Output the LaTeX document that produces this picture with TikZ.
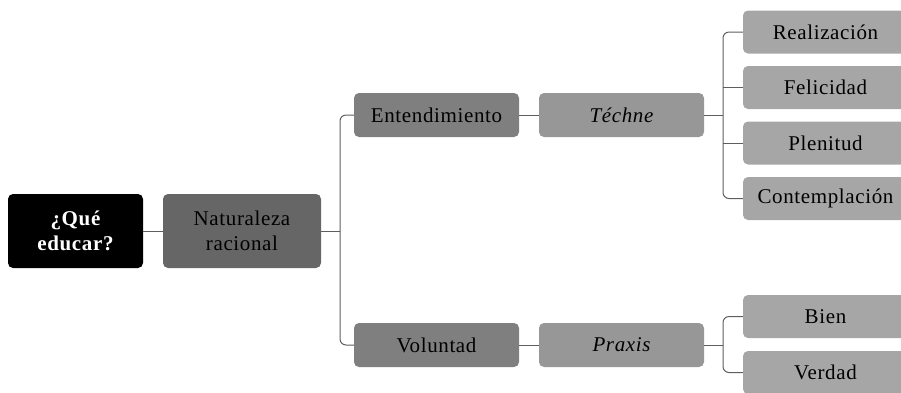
\documentclass[tikz,border=0pt]{standalone}
\usepackage{fontspec}
\setmainfont[LetterSpace=3]{Liberation Serif}
\definecolor{cnat}{HTML}{666666}
\definecolor{cmid}{HTML}{7F7F7F}
\definecolor{clt}{HTML}{979797}
\definecolor{cleaf}{HTML}{A6A6A6}
\definecolor{cline}{HTML}{5E5E5E}
\begin{document}
\begin{tikzpicture}[x=1pt,y=-1pt,
  box/.style={rectangle,rounded corners=5pt,inner sep=0pt,align=center,
    font=\fontsize{21}{25}\selectfont,text=black},
  rootbox/.style={box,fill=black,text=white,minimum width=135pt,minimum height=74pt,font=\fontsize{21}{25}\selectfont\bfseries},
  natbox/.style={box,fill=cnat,minimum width=158pt,minimum height=74pt},
  midbox/.style={box,fill=cmid,minimum width=165pt,minimum height=44pt},
  ltbox/.style={box,fill=clt,minimum width=165pt,minimum height=44pt},
  leafbox/.style={box,fill=cleaf,minimum width=165pt,minimum height=43pt},
  conn/.style={draw=cline,line width=1pt,rounded corners=6pt}]
\useasboundingbox (0,0) rectangle (901,392);
\clip (0,0) rectangle (901,392);
\node[rootbox] (root) at (75.5,231) {¿Qué\\educar?};
\node[natbox] (nat) at (242,231) {Naturaleza\\racional};
\node[midbox] (ent) at (436.5,115) {Entendimiento};
\node[ltbox] (tec) at (621.5,115) {\itshape Téchne};
\node[midbox] (vol) at (436.5,345) {Voluntad};
\node[ltbox] (pra) at (621.5,345) {\itshape Praxis};
\node[leafbox] (rea) at (825.5,32) {Realización};
\node[leafbox] (fel) at (825.5,87.5) {Felicidad};
\node[leafbox] (ple) at (825.5,143) {Plenitud};
\node[leafbox] (con) at (825.5,198.5) {Contemplación};
\node[leafbox] (bie) at (825.5,316.5) {Bien};
\node[leafbox] (ver) at (825.5,372.5) {Verdad};
\coordinate (j1) at (340,231);
\coordinate (j2) at (723,115);
\coordinate (j3) at (723,345);
\draw[conn] (root.east) -- (nat.west);
\draw[conn] (nat.east) -- (j1);
\draw[conn] (ent.west) -| (j1);
\draw[conn] (vol.west) -| (j1);
\draw[conn] (ent.east) -- (tec.west);
\draw[conn] (vol.east) -- (pra.west);
\draw[conn] (tec.east) -- (j2);
\draw[conn] (rea.west) -| (j2);
\draw[conn] (con.west) -| (j2);
\draw[conn] (fel.west) -- (fel.west -| j2);
\draw[conn] (ple.west) -- (ple.west -| j2);
\draw[conn] (pra.east) -- (j3);
\draw[conn] (bie.west) -| (j3);
\draw[conn] (ver.west) -| (j3);
\end{tikzpicture}
\end{document}
